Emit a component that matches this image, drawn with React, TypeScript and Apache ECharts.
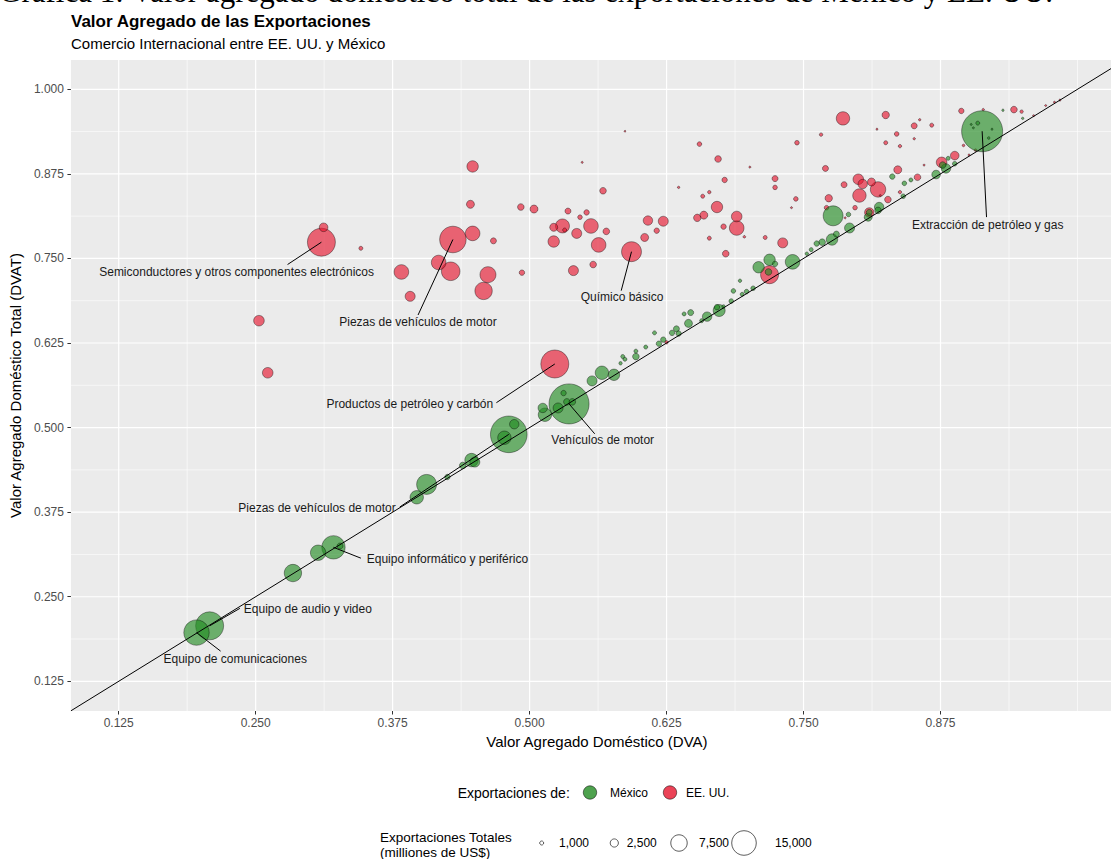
import React, { useEffect, useRef } from "react";
import * as echarts from "echarts";

// [DVA, DVAT, exportaciones totales (millones de US$), etiqueta opcional]
type Pt = [number, number, number, string?];

const usPoints: Pt[] = [
  [0.312, 0.796, 2690], [0.310, 0.774, 18900, "Semiconductores y otros componentes electrónicos"],
  [0.346, 0.765, 1000], [0.448, 0.886, 4130], [0.446, 0.830, 2420], [0.448, 0.787, 6150],
  [0.430, 0.778, 17200, "Piezas de vehículos de motor"], [0.467, 0.776, 1630], [0.383, 0.730, 6150],
  [0.417, 0.744, 6150], [0.428, 0.731, 9220], [0.462, 0.726, 7150], [0.458, 0.702, 8220],
  [0.391, 0.694, 3370], [0.493, 0.729, 1430], [0.253, 0.658, 3690], [0.261, 0.581, 3690],
  [0.523, 0.594, 18900, "Productos de petróleo y carbón"], [0.492, 0.826, 1860], [0.504, 0.823, 2420],
  [0.522, 0.796, 2420], [0.530, 0.798, 5740], [0.532, 0.792, 1000], [0.543, 0.787, 3370],
  [0.556, 0.798, 6150], [0.570, 0.790, 1860], [0.522, 0.775, 4130], [0.563, 0.770, 6150],
  [0.535, 0.820, 1630], [0.546, 0.811, 1170], [0.552, 0.818, 1430], [0.567, 0.850, 1860],
  [0.593, 0.760, 10400, "Químico básico"], [0.605, 0.781, 2420], [0.616, 0.791, 1430],
  [0.608, 0.806, 3070], [0.622, 0.805, 3370], [0.540, 0.732, 3370], [0.558, 0.741, 1860],
  [0.587, 0.938, 440], [0.548, 0.892, 520], [0.655, 0.919, 1170], [0.672, 0.897, 1860],
  [0.701, 0.885, 520], [0.678, 0.866, 1430], [0.724, 0.868, 1630], [0.724, 0.855, 1170],
  [0.744, 0.921, 1170], [0.636, 0.855, 600], [0.658, 0.842, 1000], [0.664, 0.848, 840],
  [0.671, 0.826, 4130], [0.659, 0.814, 2420], [0.653, 0.810, 2170], [0.689, 0.812, 3690],
  [0.689, 0.795, 6150], [0.677, 0.797, 1430], [0.696, 0.782, 650], [0.664, 0.780, 1000],
  [0.715, 0.781, 1000], [0.731, 0.773, 3370], [0.679, 0.757, 1860], [0.719, 0.726, 8720],
  [0.625, 0.626, 840], [0.743, 0.838, 1170], [0.739, 0.825, 520], [0.770, 0.883, 1630],
  [0.771, 0.825, 1170], [0.773, 0.839, 2170], [0.786, 0.957, 5340], [0.825, 0.962, 2170],
  [0.766, 0.933, 840], [0.817, 0.941, 520], [0.835, 0.934, 1170], [0.851, 0.946, 1630],
  [0.856, 0.955, 600], [0.867, 0.947, 1000], [0.825, 0.921, 1000], [0.838, 0.916, 840],
  [0.851, 0.927, 600], [0.894, 0.968, 1430], [0.914, 0.970, 600], [0.942, 0.970, 1860],
  [0.949, 0.967, 840], [0.960, 0.961, 520], [0.971, 0.976, 520], [0.979, 0.981, 520],
  [0.984, 0.984, 520], [0.836, 0.881, 2420], [0.860, 0.888, 520], [0.787, 0.859, 1630],
  [0.800, 0.867, 3690], [0.804, 0.860, 3070], [0.812, 0.863, 2420], [0.801, 0.843, 5340],
  [0.818, 0.852, 6710], [0.827, 0.837, 1860], [0.797, 0.825, 1170], [0.820, 0.843, 520],
  [0.838, 0.848, 840], [0.854, 0.870, 1860], [0.876, 0.892, 3690], [0.888, 0.902, 2690],
  [0.896, 0.917, 650], [0.901, 0.903, 520], [0.907, 0.910, 650], [0.810, 0.818, 3070],
  [0.788, 0.810, 520],
];

const mexicoPoints: Pt[] = [
  [0.196, 0.197, 15900, "Equipo de comunicaciones"], [0.208, 0.207, 18900, "Equipo de audio y video"],
  [0.284, 0.285, 8220], [0.307, 0.315, 6710], [0.321, 0.323, 13700, "Equipo informático y periférico"],
  [0.327, 0.325, 1630], [0.397, 0.397, 5340], [0.406, 0.416, 10400], [0.425, 0.427, 1430],
  [0.439, 0.444, 1860], [0.447, 0.452, 5340], [0.450, 0.449, 3370],
  [0.481, 0.490, 30800, "Piezas de vehículos de motor"], [0.486, 0.505, 3070], [0.477, 0.485, 5340],
  [0.514, 0.519, 5340], [0.536, 0.535, 36300, "Vehículos de motor"], [0.531, 0.551, 1430],
  [0.526, 0.529, 3370], [0.534, 0.538, 1860], [0.539, 0.538, 1860], [0.512, 0.529, 3070],
  [0.557, 0.569, 3370], [0.566, 0.581, 5340], [0.577, 0.578, 4130], [0.583, 0.595, 840],
  [0.585, 0.605, 1000], [0.587, 0.601, 1000], [0.597, 0.605, 1860], [0.597, 0.613, 1000],
  [0.606, 0.619, 1000], [0.614, 0.640, 1000], [0.618, 0.624, 1430], [0.622, 0.630, 1430],
  [0.630, 0.640, 1430], [0.634, 0.646, 1630], [0.636, 0.639, 1430], [0.645, 0.654, 2420],
  [0.641, 0.668, 1000], [0.647, 0.670, 1630], [0.657, 0.658, 1000], [0.662, 0.664, 3070],
  [0.673, 0.673, 4480], [0.671, 0.678, 1430], [0.677, 0.679, 840], [0.684, 0.687, 1170],
  [0.686, 0.702, 1170], [0.692, 0.717, 840], [0.694, 0.697, 1000], [0.698, 0.701, 1170],
  [0.704, 0.706, 1170], [0.709, 0.737, 4130], [0.719, 0.748, 4130], [0.724, 0.742, 1430],
  [0.718, 0.730, 1860], [0.740, 0.745, 6150], [0.753, 0.757, 840], [0.757, 0.763, 1000],
  [0.762, 0.772, 1430], [0.767, 0.774, 1860], [0.776, 0.778, 4130], [0.777, 0.813, 10400],
  [0.792, 0.795, 3370], [0.791, 0.815, 1170], [0.809, 0.811, 2420],
  [0.913, 0.938, 38000, "Extracción de petróleo y gas"], [0.909, 0.950, 1000], [0.903, 0.948, 520],
  [0.922, 0.941, 520], [0.919, 0.928, 650], [0.905, 0.943, 520], [0.932, 0.969, 600],
  [0.950, 0.957, 600], [0.780, 0.786, 1630], [0.819, 0.826, 3070], [0.818, 0.821, 1860],
  [0.831, 0.871, 1430], [0.842, 0.861, 1170], [0.848, 0.866, 1000], [0.841, 0.842, 1170],
  [0.871, 0.874, 2690], [0.880, 0.883, 3070], [0.882, 0.898, 1000], [0.888, 0.890, 1170],
  [0.877, 0.888, 1860], [0.810, 0.818, 1630],
];

// Etiquetas: punto de referencia (país + nombre), centro del texto y arranque del segmento, en unidades de datos
const labelPlacements = [
  { country: "us", name: "Semiconductores y otros componentes electrónicos", lx: 0.2326, ly: 0.7295, sx: 0.2791, sy: 0.741 },
  { country: "us", name: "Piezas de vehículos de motor", lx: 0.3981, ly: 0.6564, sx: 0.3982, sy: 0.6664 },
  { country: "us", name: "Químico básico", lx: 0.5843, ly: 0.6925, sx: 0.5836, sy: 0.7024 },
  { country: "us", name: "Productos de petróleo y carbón", lx: 0.3907, ly: 0.5344, sx: 0.4697, sy: 0.5368 },
  { country: "mx", name: "Extracción de petróleo y gas", lx: 0.9181, ly: 0.7998, sx: 0.917, sy: 0.8111 },
  { country: "mx", name: "Vehículos de motor", lx: 0.5667, ly: 0.481, sx: 0.5594, sy: 0.4908 },
  { country: "mx", name: "Piezas de vehículos de motor", lx: 0.306, ly: 0.3811, sx: 0.3815, sy: 0.3826 },
  { country: "mx", name: "Equipo informático y periférico", lx: 0.425, ly: 0.3055, sx: 0.346, sy: 0.307 },
  { country: "mx", name: "Equipo de audio y video", lx: 0.2976, ly: 0.2319, sx: 0.2356, sy: 0.2328 },
  { country: "mx", name: "Equipo de comunicaciones", lx: 0.2313, ly: 0.1582, sx: 0.218, sy: 0.1696 },
];

const xTickValues = [0.125, 0.25, 0.375, 0.5, 0.625, 0.75, 0.875];
const yTickValues = [0.125, 0.25, 0.375, 0.5, 0.625, 0.75, 0.875, 1.0];
const xMinorValues = [0.1875, 0.3125, 0.4375, 0.5625, 0.6875, 0.8125, 0.9375, 1.0];
const yMinorValues = [0.1875, 0.3125, 0.4375, 0.5625, 0.6875, 0.8125, 0.9375];
const sizeLegendValues = [1000, 2500, 7500, 15000];
const sizeLegendLabels = ["1,000", "2,500", "7,500", "15,000"];
const colorLegend = [
  { name: "México", color: "rgba(34,139,34,0.8)" },
  { name: "EE. UU.", color: "rgba(230,20,45,0.8)" },
];

const X_MIN = 0.0814;
const X_MAX = 1.0306;
const Y_MIN = 0.0811;
const Y_MAX = 1.0433;

const FONT = '"Liberation Sans", Arial, Helvetica, sans-serif';
const GREEN = colorLegend[0].color;
const RED = colorLegend[1].color;

// radio (px) proporcional a sqrt(valor), como la escala de tamaño del original
const radiusOf = (v: number) => Math.max(0.8, -1.58 + 0.1133 * Math.sqrt(v));

export default function App() {
  const ref = useRef<HTMLDivElement>(null);

  useEffect(() => {
    if (!ref.current) return;
    const chart = echarts.init(ref.current, null, { renderer: "svg" });

    const sortBySize = (arr: Pt[]) =>
      [...arr].sort((a, b) => b[2] - a[2]).map((p) => [p[0], p[1], p[2]]);

    const findPoint = (country: string, name: string) => {
      const arr = country === "us" ? usPoints : mexicoPoints;
      return arr.find((p) => p[3] === name)!;
    };

    const gridData: number[][] = [
      ...xTickValues.map((v) => [0, v, 1]),
      ...xMinorValues.map((v) => [0, v, 0]),
      ...yTickValues.map((v) => [1, v, 1]),
      ...yMinorValues.map((v) => [1, v, 0]),
    ];

    const leaderData = labelPlacements.map((l) => {
      const p = findPoint(l.country, l.name);
      return [l.sx, l.sy, p[0], p[1]];
    });

    const legendY1 = 792.5;
    const legendY2 = 843;
    const sizeLegendX = [541.7, 614.3, 679, 744];
    const sizeLabelX = [559, 626.7, 699, 775];

    const graphics: any[] = [
      {
        type: "text",
        x: -1,
        y: -9,
        style: {
          text: "Gráfica 1: Valor agregado doméstico total de las exportaciones de México y EE. UU.",
          fontSize: 31,
          fontFamily: '"Liberation Serif", "Times New Roman", serif',
          fill: "#000",
          verticalAlign: "middle",
        },
      },
      {
        type: "text",
        x: 71,
        y: 21.5,
        style: {
          text: "Valor Agregado de las Exportaciones",
          fontSize: 17,
          fontWeight: "bold",
          fontFamily: FONT,
          fill: "#000",
          verticalAlign: "middle",
        },
      },
      {
        type: "text",
        x: 71,
        y: 43.5,
        style: {
          text: "Comercio Internacional entre EE. UU. y México",
          fontSize: 15,
          fontFamily: FONT,
          fill: "#000",
          verticalAlign: "middle",
        },
      },
      {
        type: "text",
        x: 457.7,
        y: legendY1,
        style: { text: "Exportaciones de:", fontSize: 14, fontFamily: FONT, fill: "#000", verticalAlign: "middle" },
      },
      {
        type: "circle",
        shape: { cx: 590, cy: legendY1, r: 6.7 },
        style: { fill: colorLegend[0].color, stroke: "rgba(0,0,0,0.85)", lineWidth: 0.6 },
      },
      {
        type: "text",
        x: 610,
        y: legendY1,
        style: { text: colorLegend[0].name, fontSize: 12, fontFamily: FONT, fill: "#000", verticalAlign: "middle" },
      },
      {
        type: "circle",
        shape: { cx: 670, cy: legendY1, r: 6.7 },
        style: { fill: colorLegend[1].color, stroke: "rgba(0,0,0,0.85)", lineWidth: 0.6 },
      },
      {
        type: "text",
        x: 686,
        y: legendY1,
        style: { text: colorLegend[1].name, fontSize: 12, fontFamily: FONT, fill: "#000", verticalAlign: "middle" },
      },
      {
        type: "text",
        x: 380,
        y: 845,
        style: {
          text: "Exportaciones Totales\n(milliones de US$)",
          fontSize: 13.5,
          lineHeight: 14.5,
          fontFamily: FONT,
          fill: "#000",
          verticalAlign: "middle",
        },
      },
      ...sizeLegendValues.map((v, i) => ({
        type: "circle",
        shape: { cx: sizeLegendX[i], cy: legendY2, r: radiusOf(v) },
        style: { fill: "#fff", stroke: "#333", lineWidth: 0.8 },
      })),
      ...sizeLegendLabels.map((t, i) => ({
        type: "text",
        x: sizeLabelX[i],
        y: legendY2,
        style: { text: t, fontSize: 12, fontFamily: FONT, fill: "#000", verticalAlign: "middle" },
      })),
    ];

    chart.setOption({
      animation: false,
      backgroundColor: "#fff",
      textStyle: { fontFamily: FONT },
      grid: {
        left: 70.7,
        top: 60,
        width: 1111 - 70.7,
        height: 651,
        show: true,
        backgroundColor: "#EBEBEB",
        borderWidth: 0,
        containLabel: false,
      },
      xAxis: {
        type: "value",
        min: X_MIN,
        max: X_MAX,
        splitLine: { show: false },
        axisLine: { show: false },
        axisTick: {
          show: true,
          customValues: xTickValues,
          length: 3.5,
          lineStyle: { color: "#333", width: 1 },
        },
        axisLabel: {
          customValues: xTickValues,
          formatter: (v: number) => v.toFixed(3),
          color: "#4D4D4D",
          fontSize: 12,
          margin: 6,
          fontFamily: FONT,
        },
        name: "Valor Agregado Doméstico (DVA)",
        nameLocation: "middle",
        nameGap: 22,
        nameTextStyle: { fontSize: 15, color: "#000", fontFamily: FONT, padding: [0, 0, 0, 12] },
      },
      yAxis: {
        type: "value",
        min: Y_MIN,
        max: Y_MAX,
        splitLine: { show: false },
        axisLine: { show: false },
        axisTick: {
          show: true,
          customValues: yTickValues,
          length: 3.5,
          lineStyle: { color: "#333", width: 1 },
        },
        axisLabel: {
          customValues: yTickValues,
          formatter: (v: number) => v.toFixed(3),
          color: "#4D4D4D",
          fontSize: 12,
          margin: 7,
          fontFamily: FONT,
        },
        name: "Valor Agregado Doméstico Total (DVAT)",
        nameLocation: "middle",
        nameRotate: 90,
        nameGap: 41,
        nameTextStyle: { fontSize: 15, color: "#000", fontFamily: FONT },
      },
      graphic: graphics,
      series: [
        {
          type: "custom",
          name: "grid",
          silent: true,
          z: 0,
          data: gridData,
          renderItem: (_params: any, api: any) => {
            const o = api.value(0);
            const v = api.value(1);
            const major = api.value(2) === 1;
            const p1 = o === 0 ? api.coord([v, Y_MIN]) : api.coord([X_MIN, v]);
            const p2 = o === 0 ? api.coord([v, Y_MAX]) : api.coord([X_MAX, v]);
            return {
              type: "line",
              shape: { x1: p1[0], y1: p1[1], x2: p2[0], y2: p2[1] },
              style: { stroke: "#FFFFFF", lineWidth: major ? 1.2 : 0.6 },
            };
          },
        },
        {
          type: "scatter",
          name: "EE. UU.",
          silent: true,
          z: 2,
          data: sortBySize(usPoints),
          symbolSize: (v: number[]) => 2 * radiusOf(v[2]),
          itemStyle: { color: RED, borderColor: "rgba(0,0,0,0.8)", borderWidth: 0.6 },
        },
        {
          type: "scatter",
          name: "México",
          silent: true,
          z: 3,
          data: sortBySize(mexicoPoints),
          symbolSize: (v: number[]) => 2 * radiusOf(v[2]),
          itemStyle: { color: GREEN, borderColor: "rgba(0,0,0,0.8)", borderWidth: 0.6 },
        },
        {
          type: "line",
          name: "diagonal",
          silent: true,
          z: 4,
          symbol: "none",
          clip: true,
          data: [
            [X_MIN, X_MIN],
            [Y_MAX, Y_MAX],
          ],
          lineStyle: { color: "#000", width: 1 },
        },
        {
          type: "custom",
          name: "segmentos",
          silent: true,
          z: 5,
          data: leaderData,
          encode: { x: [0, 2], y: [1, 3] },
          renderItem: (_params: any, api: any) => {
            const a = api.coord([api.value(0), api.value(1)]);
            const b = api.coord([api.value(2), api.value(3)]);
            return {
              type: "line",
              shape: { x1: a[0], y1: a[1], x2: b[0], y2: b[1] },
              style: { stroke: "#000", lineWidth: 1 },
            };
          },
        },
        {
          type: "custom",
          name: "etiquetas",
          silent: true,
          z: 6,
          data: labelPlacements.map((l) => [l.lx, l.ly]),
          renderItem: (params: any, api: any) => {
            const c = api.coord([api.value(0), api.value(1)]);
            return {
              type: "text",
              x: c[0],
              y: c[1],
              style: {
                text: labelPlacements[params.dataIndex].name,
                fill: "#1A1A1A",
                fontSize: 12,
                fontFamily: FONT,
                align: "center",
                verticalAlign: "middle",
              },
            };
          },
        },
      ],
    });

    return () => chart.dispose();
  }, []);

  return (
    <div
      ref={ref}
      style={{ position: "absolute", left: 0, top: 0, width: 1111, height: 859, background: "#fff" }}
    />
  );
}
